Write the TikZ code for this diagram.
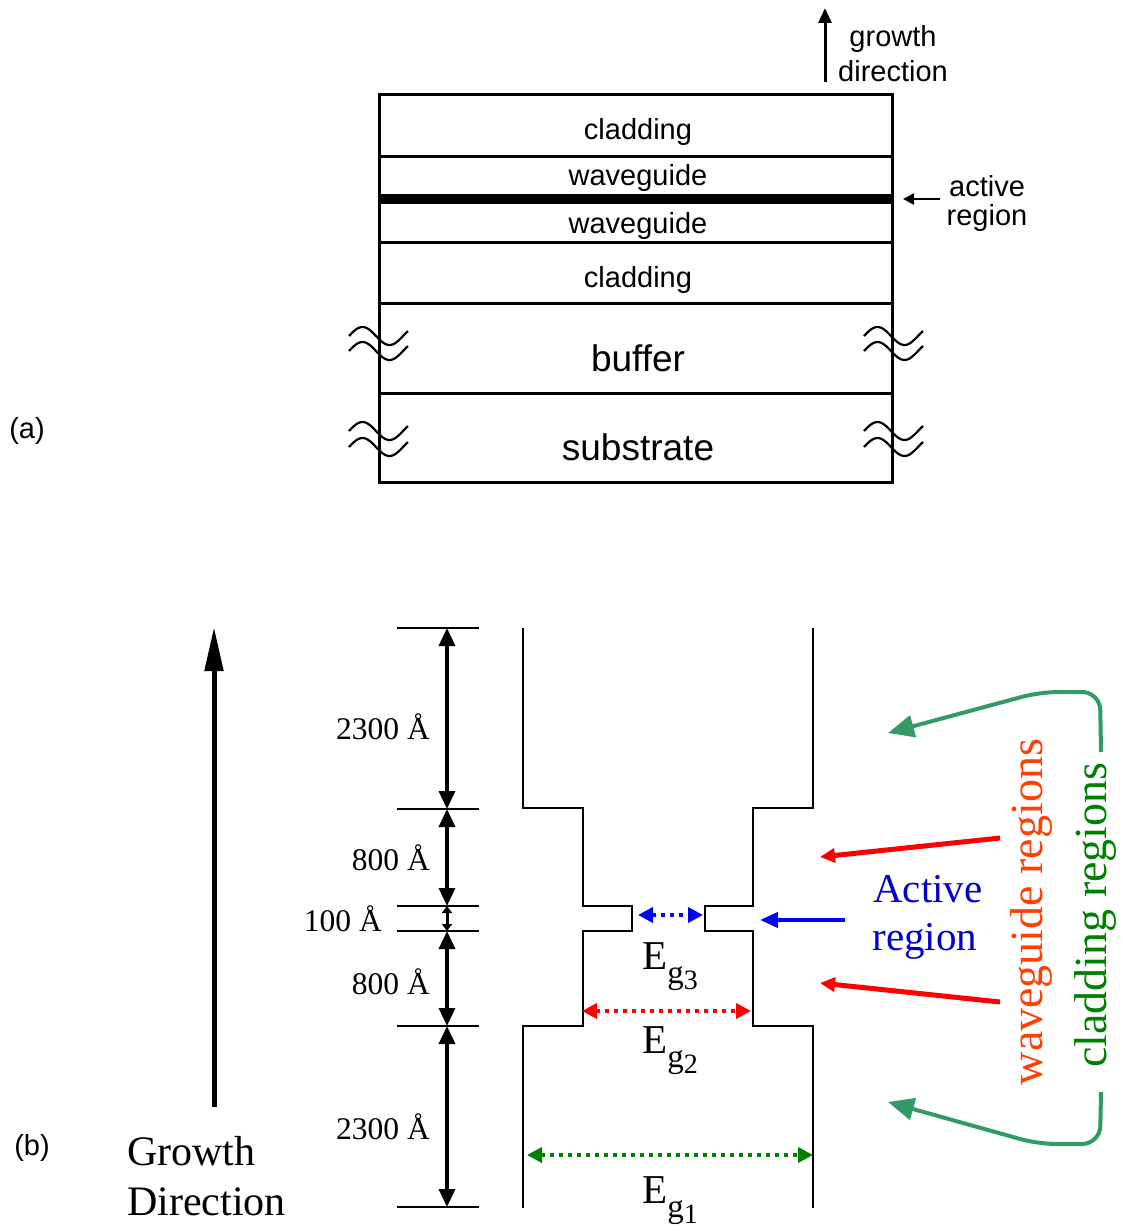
\documentclass[tikz,border=0pt]{standalone}
\usepackage{fontspec}
\setmainfont{Liberation Serif}
\newfontfamily\arialfont{Liberation Sans}
\usetikzlibrary{arrows.meta}
\definecolor{actblue}{RGB}{0,0,204}
\definecolor{wgred}{RGB}{255,64,0}
\definecolor{cladgreen}{RGB}{0,128,0}
\definecolor{arrgreen}{RGB}{51,153,102}
\newcommand\Egap[1]{\fontsize{41}{41}\selectfont E\raisebox{-14pt}{\fontsize{33}{33}\selectfont g\raisebox{-6pt}{\fontsize{28}{28}\selectfont #1}}}
\begin{document}
\begin{tikzpicture}[x=1pt,y=-1pt,
  sanslbl/.style={font=\arialfont\fontsize{29}{31}\selectfont, inner sep=0},
  sansbig/.style={font=\arialfont\fontsize{37}{39}\selectfont, inner sep=0},
  dimlbl/.style={font=\fontsize{31.5}{33}\selectfont, inner sep=0, anchor=east},
  biglbl/.style={font=\fontsize{42}{44}\selectfont, inner sep=0, anchor=west},
  layerline/.style={line width=3pt},
  tickline/.style={line width=2.5pt},
  dimarrow/.style={line width=3.5pt, {Triangle[length=18pt,width=16pt]}-{Triangle[length=18pt,width=16pt]}},
  smalldim/.style={line width=3pt, {Triangle[length=7pt,width=10pt]}-{Triangle[length=7pt,width=10pt]}},
  bandline/.style={line width=2.5pt},
  gaparrow/.style={line width=4pt, dash pattern=on 4pt off 5pt, {Triangle[length=15pt,width=15pt]}-{Triangle[length=15pt,width=15pt]}},
  pointer/.style={line width=5pt, -{Triangle[length=15pt,width=14pt]}},
  greenarc/.style={arrgreen, line width=4pt, rounded corners=18pt, -{Triangle[length=26pt,width=22pt]}}
]
\useasboundingbox (0,0) rectangle (1123,1231);

% ---------------- (a) ----------------
\draw[layerline] (379,94) rectangle (892,482);
\foreach \yy in {156,242,303,393} \draw[layerline] (379,\yy) -- (892,\yy);
\fill (379,194) rectangle (892,204);
\node[sanslbl] (clad1) at (638,132) {cladding};
\node[sanslbl] (wg1) at (638,178) {waveguide};
\node[sanslbl] (wg2) at (638,226) {waveguide};
\node[sanslbl] (clad2) at (638,280) {cladding};
\node[sansbig] (buf) at (638,358) {buffer};
\node[sansbig] (sub) at (638,447) {substrate};
\foreach \xx in {349,864} \foreach \yy in {336,351,431,447}
  \draw[line width=2.2pt] plot[domain=0:59,samples=40,smooth] ({\xx+\x},{\yy-9*sin(6.6667*\x)});
\coordinate (gdtail) at (825,82);
\coordinate (gdtip) at (825,8);
\draw[line width=3pt, -{Triangle[length=15pt,width=13pt]}] (gdtail) -- (gdtip);
\node[sanslbl] (gdtxt1) at (893,39) {growth};
\node[sanslbl] (gdtxt2) at (893,71) {direction};
\coordinate (artail) at (940,199);
\coordinate (artip) at (903,199);
\draw[line width=2.5pt, -{Triangle[length=11pt,width=11pt]}] (artail) -- (artip);
\node[sanslbl] (artxt1) at (987,186) {active};
\node[sanslbl] (artxt2) at (987,218) {region};
\node[sanslbl] (la) at (27,431) {(a)};

% ---------------- (b) ----------------
\foreach \yy/\nm in {628/t1,809/t2,906/t3,931/t4,1026/t5,1207/t6} {
  \draw[tickline] (397,\yy) -- (479,\yy);
  \coordinate (\nm) at (447,\yy);
}
\draw[dimarrow] (t1) -- (t2);
\draw[dimarrow] (t2) -- (t3);
\draw[smalldim] (t3) -- (t4);
\draw[dimarrow] (t4) -- (t5);
\draw[dimarrow] (t5) -- (t6);
\node[dimlbl] (d1) at (430,727) {2300 Å};
\node[dimlbl] (d2) at (430,858) {800 Å};
\node[dimlbl] (d3) at (382,919) {100 Å};
\node[dimlbl] (d4) at (430,982) {800 Å};
\node[dimlbl] (d5) at (430,1127) {2300 Å};

% band profile
\draw[bandline] (523,628) -- (523,808) -- (583,808) -- (583,906) -- (632,906) -- (632,931) -- (583,931) -- (583,1026) -- (523,1026) -- (523,1208);
\draw[bandline] (813,628) -- (813,808) -- (753,808) -- (753,906) -- (705,906) -- (705,931) -- (753,931) -- (753,1026) -- (813,1026) -- (813,1208);

% gap arrows
\coordinate (g3l) at (638,915); \coordinate (g3r) at (703,915);
\coordinate (g2l) at (582,1011); \coordinate (g2r) at (751,1011);
\coordinate (g1l) at (527,1155); \coordinate (g1r) at (813,1155);
\draw[gaparrow, blue] (g3l) -- (g3r);
\draw[gaparrow, red] (g2l) -- (g2r);
\draw[gaparrow, cladgreen] (g1l) -- (g1r);
\node[inner sep=0, anchor=base west] (eg3) at (642,969) {\Egap{3}};
\node[inner sep=0, anchor=base west] (eg2) at (642,1053) {\Egap{2}};
\node[inner sep=0, anchor=base west] (eg1) at (642,1203) {\Egap{1}};

% growth direction
\coordinate (GDtail) at (214,1107);
\coordinate (GDtip) at (214,627);
\draw[line width=5pt, -{Triangle[length=44pt,width=18pt]}] (GDtail) -- (GDtip);
\node[biglbl] (gtxt1) at (127,1151) {Growth};
\node[biglbl] (gtxt2) at (127,1202) {Direction};
\node[sanslbl] (lb) at (32,1148) {(b)};

% active region pointer
\coordinate (actail) at (845,920);
\coordinate (actip) at (760,920);
\draw[line width=4pt, blue, -{Triangle[length=18pt,width=15pt]}] (actail) -- (actip);
\node[font=\fontsize{41}{43}\selectfont, inner sep=0, text=actblue] (act1) at (928,889) {Active};
\node[font=\fontsize{41}{43}\selectfont, inner sep=0, text=actblue] (act2) at (925,941) {region};

% waveguide pointers
\coordinate (w1tail) at (1000,838); \coordinate (w1tip) at (820,857);
\coordinate (w2tail) at (1000,1002); \coordinate (w2tip) at (820,983);
\draw[pointer, red] (w1tail) -- (w1tip);
\draw[pointer, red] (w2tail) -- (w2tip);
\node[font=\fontsize{46}{48}\selectfont, inner sep=0, text=wgred, rotate=90] (wgtxt) at (1031,912) {waveguide regions};
\node[font=\fontsize{46}{48}\selectfont, inner sep=0, text=cladgreen, rotate=90] (cltxt) at (1095,915) {cladding regions};

% cladding arrows
\coordinate (c1s) at (1101,752); \coordinate (c1c) at (1100,692); \coordinate (c1tip) at (888,733);
\coordinate (c2s) at (1101,1092); \coordinate (c2c) at (1100,1144); \coordinate (c2tip) at (888,1102);
\draw[greenarc] (c1s) -- (c1c) -- (1040,692) -- (c1tip);
\draw[greenarc] (c2s) -- (c2c) -- (1038,1144) -- (c2tip);
\end{tikzpicture}
\end{document}
